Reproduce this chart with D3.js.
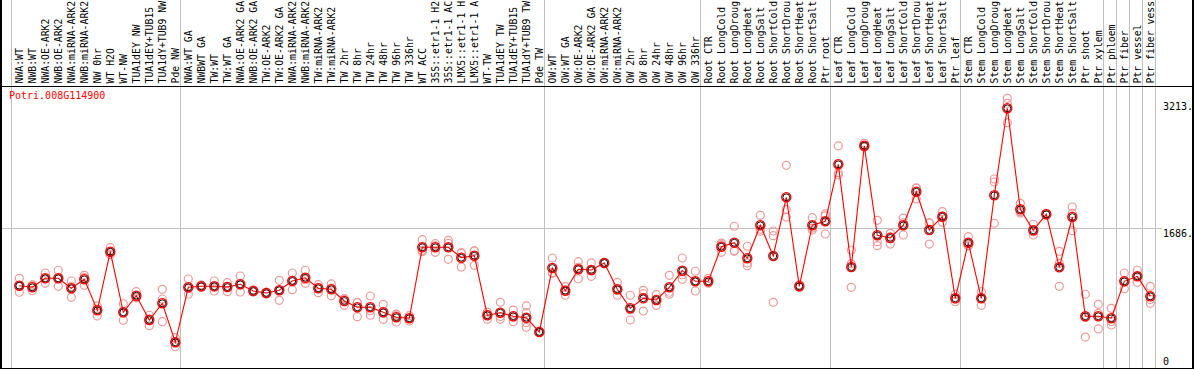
<!DOCTYPE html>
<html><head><meta charset="utf-8">
<script src="https://cdn.jsdelivr.net/npm/d3@7"></script>
<style>
html,body{margin:0;padding:0;background:#fff;}
svg{display:block;}
text{font-family:"DejaVu Sans Mono",monospace;font-size:10px;}
</style></head>
<body><svg id="c" width="1194" height="370"></svg>
<script>
const geneName = "Potri.008G114900";
const categories = ["NWA:WT","NWB:WT","NWA:OE-ARK2","NWB:OE-ARK2","NWA:miRNA-ARK2","NWB:miRNA-ARK2","NW 0hr","WT H2O","WT-NW","TUA1dEY NW","TUA1dEY+TUB15","TUA1dY+TUB9 NW","Pde NW",
"NWA:WT GA","NWBWT GA","TW:WT","TW:WT GA","NWA:OE-ARK2 GA","NWB:OE-ARK2 GA","TW:OE-ARK2","TW:OE-ARK2 GA","NWA:miRNA-ARK2","NWB:miRNA-ARK2","TW:miRNA-ARK2","TW:miRNA-ARK2","TW 2hr","TW 8hr","TW 24hr","TW 48hr","TW 96hr","TW 336hr","WT ACC","35S::etr1-1 H2O","35S::etr1-1 ACC","LMX5::etr1-1 H2O","LMX5::etr1-1 ACC","WT-TW","TUA1dEY TW","TUA1dEY+TUB15","TUA1dY+TUB9 TW","Pde TW",
"OW:WT","OW:WT GA","OW:OE-ARK2","OW:OE-ARK2 GA","OW:miRNA-ARK2","OW:miRNA-ARK2","OW 2hr","OW 8hr","OW 24hr","OW 48hr","OW 96hr","OW 336hr",
"Root CTR","Root LongCold","Root LongDrought","Root LongHeat","Root LongSalt","Root ShortCold","Root ShortDrought","Root ShortHeat","Root ShortSalt","Ptr root",
"Leaf CTR","Leaf LongCold","Leaf LongDrought","Leaf LongHeat","Leaf LongSalt","Leaf ShortCold","Leaf ShortDrought","Leaf ShortHeat","Leaf ShortSalt","Ptr leaf",
"Stem CTR","Stem LongCold","Stem LongDrought","Stem LongHeat","Stem LongSalt","Stem ShortCold","Stem ShortDrought","Stem ShortHeat","Stem ShortSalt","Ptr shoot","Ptr xylem",
"Ptr phloem","Ptr fiber","Ptr vessel","Ptr fiber vessel"];
// the reference shows at most 14 characters of each label
const labelMaxChars = 14;
// index of last category in each group (group separators)
const groupEnds = [-1, 12, 40, 52, 62, 72, 83, 84, 85, 86, 87];
const meanValues = [991,972,1080,1080,960,1068,695,1401,671,871,578,779,310,
972,984,984,975,1008,927,903,936,1048,1087,960,948,807,731,731,671,611,599,1454,1454,1454,1328,1352,635,666,623,606,434,
1204,931,1189,1180,1265,948,719,839,819,972,1172,1044,
1044,1461,1509,1321,1719,1349,2056,984,1719,1767,
2453,1216,2677,1598,1566,1719,2123,1662,1822,839,
1509,839,2080,3128,1911,1658,1851,1213,1818,623,623,
599,1044,1104,863];
const replicateValues = [[1080,912,988],[1000,931,985],[1144,1020,1078],[1177,984,1080],[1048,851,980],[1116,996,1090],[747,626,710],[1449,1390,1365],[774,574,665],[919,850,845],[635,509,590],[948,831,558],[365,257,308],
[1072,888,956],[1000,972,980],[1048,927,978],[1027,919,980],[1108,915,1000],[940,927,915],[915,890,903],[1056,815,936],[1144,943,1056],[1177,1020,1064],[1003,907,970],[1012,871,960],[835,755,830],[786,618,790],[867,635,690],[767,586,660],[650,554,630],[566,630,600],[1545,1401,1416],[1497,1393,1470],[1538,1309,1502],[1389,1216,1379],[1409,1237,1410],[674,586,645],[791,586,620],[698,558,613],[747,666,546,490],[440,430,432],
[1325,1148,1140],[979,876,938],[1280,1075,1212],[1265,1104,1170],[1265,1260,1270],[1032,876,936],[876,578,703],[936,686,895],[883,755,819],[1116,888,912],[1325,1068,1123],[1165,927,1040],
[1080,1030,1022],[1505,1393,1485],[1707,1405,1415],[1466,1232,1265],[1839,1670,1648],[1650,1593,791],[2441,1818,1909],[1003,975,974],[1810,1662,1685],[1855,1614,1832],
[2674,2352,2324],[1421,972,1255],[2706,2660,2665],[1779,1473,1521],[1622,1493,1583],[1806,1602,1749],[2164,2035,2170],[1743,1493,1750],[1882,1755,1829],[888,798,831],
[1581,1473,1473],[919,755,843],[2276,2240,1743],[3248,3188,2954],[1983,1882,1868],[1731,1602,1641],[1863,1845,1845],[1405,1261,984],[1939,1654,1861],[888,373,608],[767,470,659],
[719,518,560],[1144,955,1033],[1177,1032,1103],[984,779,826]];
const axisTicks = [0, 1686, 3213];
const axisTickLabels = ["0", "1686.", "3213."];
const yMax = 3372;

const svg = d3.select("#c");
const W = 1194;
const x = d3.scaleLinear().domain([0, categories.length - 1]).range([19.3, 1150.3]);
const y = d3.scaleLinear().domain([0, yMax]).range([368, 88]);

// vertical group separators
svg.append("g").selectAll("line").data(groupEnds).join("line")
  .attr("x1", d => Math.round(x(d) + 4.5) + 0.5).attr("x2", d => Math.round(x(d) + 4.5) + 0.5)
  .attr("y1", 0).attr("y2", 369)
  .attr("stroke", "#c0c0c0").attr("stroke-width", 1);

// horizontal midline
svg.append("line")
  .attr("x1", 1).attr("x2", 1162)
  .attr("y1", Math.round(y(axisTicks[1])) + 0.5).attr("y2", Math.round(y(axisTicks[1])) + 0.5)
  .attr("stroke", "#c0c0c0").attr("stroke-width", 1);

// frame
svg.append("line").attr("x1", 0).attr("x2", W).attr("y1", 86.5).attr("y2", 86.5).attr("stroke", "#000");
svg.append("line").attr("x1", 0).attr("x2", W).attr("y1", 368.5).attr("y2", 368.5).attr("stroke", "#000");
svg.append("line").attr("x1", 1).attr("x2", 1).attr("y1", 0).attr("y2", 369).attr("stroke", "#000").attr("stroke-width", 2);
svg.append("line").attr("x1", 1193).attr("x2", 1193).attr("y1", 0).attr("y2", 369).attr("stroke", "#000").attr("stroke-width", 2);

// category labels
svg.append("g").selectAll("text").data(categories).join("text")
  .attr("transform", (d, i) => `translate(${x(i) + 3.6},83.5) rotate(-90)`)
  .attr("text-anchor", "start")
  .attr("fill", "#000")
  .style("font-size", "9.8px")
  .text(d => d.slice(0, labelMaxChars));

// right axis labels
svg.append("g").selectAll("text").data(axisTicks).join("text")
  .attr("x", 1163)
  .attr("y", (d, i) => i === 0 ? 365 : y(d) + 9)
  .attr("fill", "#000")
  .text((d, i) => axisTickLabels[i]);

// title
svg.append("text").attr("x", 9).attr("y", 99).attr("fill", "#ff0000").text(geneName);

// replicate circles
const reps = [];
replicateValues.forEach((arr, i) => arr.forEach(v => reps.push({i, v})));
svg.append("g").selectAll("circle").data(reps).join("circle")
  .attr("cx", d => x(d.i)).attr("cy", d => y(d.v)).attr("r", 4)
  .attr("fill", "none").attr("stroke", "#ec9a9a").attr("stroke-width", 1.2);

// mean line
svg.append("path").datum(meanValues)
  .attr("d", d3.line().x((d, i) => x(i)).y(d => y(d)))
  .attr("fill", "none").attr("stroke", "#ff0000").attr("stroke-width", 1.1);

// mean markers
const mg = svg.append("g").selectAll("g").data(meanValues).join("g")
  .attr("transform", (d, i) => `translate(${x(i)},${y(d)})`);
mg.append("circle").attr("r", 4.6).attr("fill", "none").attr("stroke", "#ff0000").attr("stroke-width", 1.3);
mg.append("circle").attr("r", 3.4).attr("fill", "none").attr("stroke", "#000").attr("stroke-width", 0.9);
</script></body></html>
